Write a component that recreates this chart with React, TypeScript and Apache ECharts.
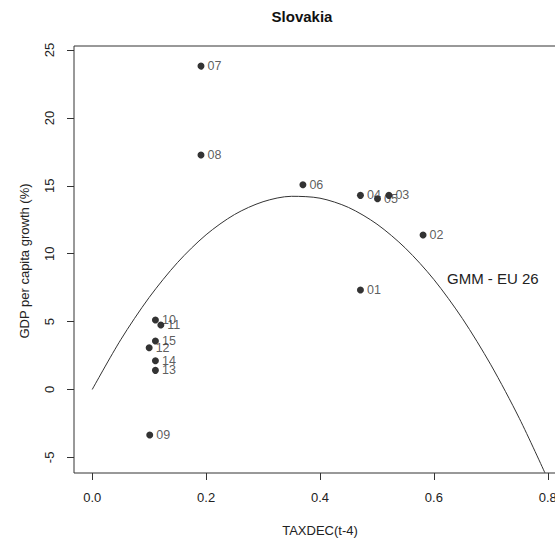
import React, { useEffect, useRef } from "react";
import * as echarts from "echarts";

const pointLabels = ["01", "02", "03", "04", "05", "06", "07", "08", "09", "10", "11", "12", "13", "14", "15"];
const taxdec = [0.471, 0.581, 0.521, 0.471, 0.501, 0.370, 0.191, 0.191, 0.101, 0.111, 0.1205, 0.100, 0.111, 0.111, 0.111];
const gdpGrowth = [7.33, 11.38, 14.30, 14.30, 14.05, 15.08, 23.82, 17.27, -3.35, 5.12, 4.75, 3.08, 1.41, 2.12, 3.57];

const curveX = [0, 0.05, 0.1, 0.15, 0.2, 0.25, 0.3, 0.35, 0.4, 0.45, 0.5, 0.55, 0.6, 0.65, 0.7, 0.75, 0.795];
const curveY = [0, 3.66, 6.78, 9.36, 11.4, 12.89, 13.83, 14.23, 14.09, 13.41, 12.18, 10.41, 8.1, 5.23, 1.82, -2.12, -6.14];

const xTicks = [0, 0.2, 0.4, 0.6, 0.8];
const yTicks = [-5, 0, 5, 10, 15, 20, 25];

const FONT = "'Liberation Sans', Arial, sans-serif";
const INK = "#222";

export default function App() {
  const ref = useRef<HTMLDivElement>(null);
  useEffect(() => {
    document.body.style.margin = "0";
    const chart = echarts.init(ref.current!, null, { renderer: "svg" });
    chart.setOption({
      animation: false,
      backgroundColor: "#fff",
      grid: {
        left: 74,
        top: 46,
        right: 4,
        bottom: 65,
        show: true,
        borderColor: "#333",
        borderWidth: 1,
        backgroundColor: "transparent",
      },
      xAxis: {
        type: "value",
        min: -0.032,
        max: 0.832,
        splitLine: { show: false },
        axisLine: { show: false, onZero: false },
        axisTick: { show: true, length: 7, lineStyle: { color: "#333" }, customValues: xTicks },
        axisLabel: {
          customValues: xTicks,
          formatter: (v: number) => v.toFixed(1),
          fontFamily: FONT,
          fontSize: 13,
          color: INK,
          margin: 18,
        },
      },
      yAxis: {
        type: "value",
        min: -6.15,
        max: 25.3,
        splitLine: { show: false },
        axisLine: { show: false, onZero: false },
        axisTick: { show: true, length: 7, lineStyle: { color: "#333" }, customValues: yTicks },
        axisLabel: {
          customValues: yTicks,
          rotate: 90,
          fontFamily: FONT,
          fontSize: 13,
          color: INK,
          margin: 18,
        },
      },
      graphic: [
        {
          type: "text",
          x: 302,
          y: 16.5,
          style: {
            text: "Slovakia",
            font: `bold 15px ${FONT}`,
            fill: "#111",
            align: "center",
            verticalAlign: "middle",
          },
        },
        {
          type: "text",
          x: 320,
          y: 530,
          style: {
            text: "TAXDEC(t-4)",
            font: `13px ${FONT}`,
            fill: INK,
            align: "center",
            verticalAlign: "middle",
          },
        },
        {
          type: "text",
          x: 24,
          y: 261,
          rotation: Math.PI / 2,
          style: {
            text: "GDP per capita growth (%)",
            font: `13px ${FONT}`,
            fill: INK,
            align: "center",
            verticalAlign: "middle",
          },
        },
        {
          type: "text",
          x: 447,
          y: 278,
          style: {
            text: "GMM - EU 26",
            font: `15px ${FONT}`,
            fill: INK,
            align: "left",
            verticalAlign: "middle",
          },
        },
      ],
      series: [
        {
          type: "line",
          data: curveX.map((x, i) => [x, curveY[i]]),
          smooth: 0.3,
          showSymbol: false,
          symbol: "none",
          clip: true,
          lineStyle: { color: "#333", width: 1 },
          z: 2,
        },
        {
          type: "scatter",
          data: taxdec.map((x, i) => ({ value: [x, gdpGrowth[i]], name: pointLabels[i] })),
          symbol: "circle",
          symbolSize: 7,
          itemStyle: { color: "#000" },
          label: {
            show: true,
            position: "right",
            distance: 3,
            formatter: (p: any) => p.name,
            fontFamily: FONT,
            fontSize: 12.5,
            color: "#333",
          },
          labelLayout: { hideOverlap: false },
          z: 3,
        },
      ],
    });
    return () => chart.dispose();
  }, []);
  return (
    <div style={{ width: 555, height: 538, overflow: "hidden", position: "relative" }}>
      <div ref={ref} style={{ width: 570, height: 538 }} />
    </div>
  );
}
